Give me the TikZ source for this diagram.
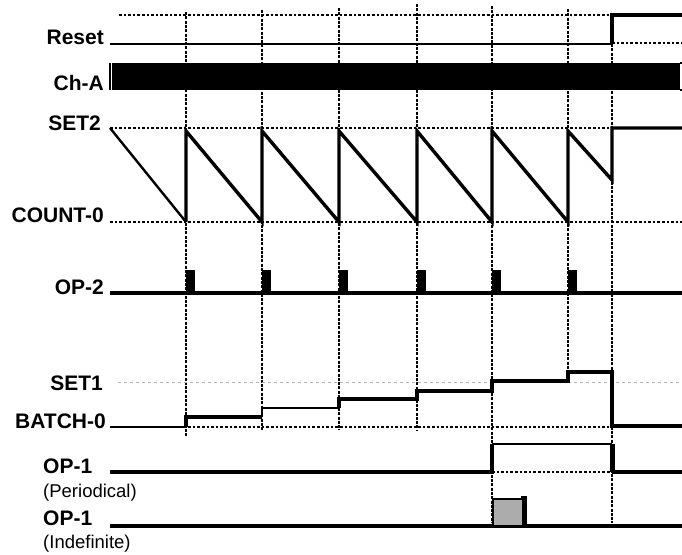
\documentclass[tikz,border=0pt]{standalone}
\usepackage{fontspec}
\setmainfont{Liberation Sans}
\begin{document}
\begin{tikzpicture}[x=1pt, y=-1pt,
  lbl/.style={font=\fontsize{21}{24}\selectfont\bfseries, anchor=base east, inner sep=0pt},
  sub/.style={font=\fontsize{18.5}{22}\selectfont, anchor=base west, inner sep=0pt},
  hguide/.style={line width=2.6pt, dash pattern=on 2.6pt off 2pt},
  vguide/.style={line width=2.6pt, dash pattern=on 3pt off 1.3pt},
  setline/.style={gray!60, line width=1pt, dash pattern=on 3pt off 3pt},
  sig/.style={line width=3.4pt, line join=miter},
  thinsig/.style={line width=1.8pt},
  pulse/.style={fill=black}
]
\useasboundingbox (0,0) rectangle (682,554);

% labels
\node[lbl] (reset) at (104,44) {Reset};
\node[lbl] (cha) at (104,90) {Ch-A};
\node[lbl] (set2) at (101,130) {SET2};
\node[lbl] (count0) at (104,222) {COUNT-0};
\node[lbl] (op2) at (104,294) {OP-2};
\node[lbl] (set1) at (103,390) {SET1};
\node[lbl] (batch0) at (106,428) {BATCH-0};
\node[lbl, anchor=base west] (op1p) at (43,473) {OP-1};
\node[sub] (per) at (43,497) {(Periodical)};
\node[lbl, anchor=base west] (op1i) at (43,525) {OP-1};
\node[sub] (ind) at (43,548) {(Indefinite)};

% vertical guides
\draw[vguide] (186,12) -- (186,436);
\draw[vguide] (262,10) -- (262,430);
\draw[vguide] (339,8) -- (339,430);
\draw[vguide] (417,4) -- (417,430);
\draw[vguide] (492,6) -- (492,523);
\draw[vguide] (568,9) -- (568,372);
\draw[vguide] (612,14) -- (612,523);

% horizontal guides
\draw[hguide] (119,15) -- (612,15);
\draw[hguide] (612,43) -- (682,43);
\draw[hguide] (110,128) -- (612,128);
\draw[hguide] (110,222) -- (682,222);
\draw[setline] (118,382) -- (682,382);
\draw[hguide] (110,427) -- (612,427);
\draw[hguide] (492,472) -- (612,472);

% Reset
\draw[line width=2.6pt] (110,44) -- (612,44);
\draw[sig] (612,44) -- (612,15) -- (682,15);

% Ch-A
\fill (112,63) rectangle (680,90);
\draw[line width=1.4pt] (110,63) -- (110,90);
\draw[line width=1.4pt] (680,63) -- (682,63) (680,90) -- (682,90);

% counter
\draw[line width=2.4pt] (110,128) -- (186,222);
\draw[sig] (186,222) -- (186,131) -- (262,222) -- (262,131) -- (339,222)
  -- (339,131) -- (417,222) -- (417,131) -- (492,222) -- (492,131)
  -- (568,222) -- (568,131) -- (612,180) -- (612,128) -- (682,128);

% OP-2
\draw[sig] (110,293) -- (682,293);
\fill[pulse] (186,270) rectangle (195,293);
\fill[pulse] (262,270) rectangle (271,293);
\fill[pulse] (339,270) rectangle (348,293);
\fill[pulse] (417,270) rectangle (426,293);
\fill[pulse] (492,270) rectangle (501,293);
\fill[pulse] (568,270) rectangle (577,293);

% batch
\draw[line width=2.6pt] (110,427) -- (186,427);
\draw[sig] (186,427) -- (186,417) -- (262,417);
\draw[thinsig] (262,417) -- (262,408) -- (339,408);
\draw[sig] (339,408) -- (339,399) -- (417,399) -- (417,391) -- (492,391)
  -- (492,381) -- (568,381) -- (568,372) -- (612,372) -- (612,426) -- (682,426);

% OP-1 periodical
\draw[sig] (110,472) -- (492,472) -- (492,444);
\draw[line width=2.4pt] (492,444) -- (612,444);
\draw[line width=5pt] (612,444) -- (612,472);
\draw[sig] (612,472) -- (682,472);

% OP-1 indefinite
\draw[sig] (110,526) -- (682,526);
\draw[fill=gray!65, line width=1.6pt] (493,499) rectangle (523,526);
\draw[line width=3.6pt] (521,498) -- (525,498) -- (525,527);
\end{tikzpicture}
\end{document}
